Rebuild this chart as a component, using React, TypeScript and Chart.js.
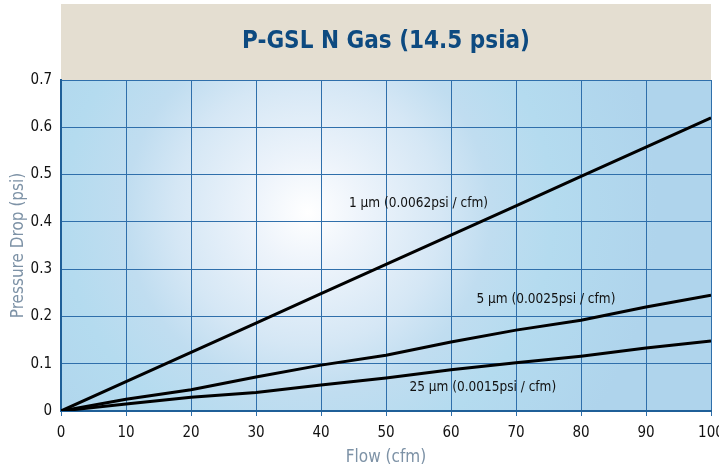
import React, { useEffect, useRef } from "react";
import { Chart, registerables } from "chart.js";

Chart.register(...registerables);

const flow = [0, 10, 20, 30, 40, 50, 60, 70, 80, 90, 100];
const drop1um = [0, 0.062, 0.124, 0.186, 0.248, 0.31, 0.372, 0.434, 0.496, 0.558, 0.62];
const drop5um = [0, 0.025, 0.045, 0.072, 0.097, 0.118, 0.146, 0.171, 0.192, 0.22, 0.245];
const drop25um = [0, 0.015, 0.029, 0.039, 0.055, 0.07, 0.087, 0.102, 0.116, 0.133, 0.148];
const seriesNames = ["1 µm (0.0062psi / cfm)", "5 µm (0.0025psi / cfm)", "25 µm (0.0015psi / cfm)"];
const labelAnchors = [
  { x: 55, y: 0.438 },
  { x: 74.6, y: 0.235 },
  { x: 64.9, y: 0.049 },
];
const titleText = "P-GSL N Gas (14.5 psia)";

const NARROW = "'Liberation Sans Narrow', 'DejaVu Sans Condensed', 'Arial Narrow', sans-serif";

const bgPlugin = {
  id: "bgPlugin",
  beforeDraw(chart: any) {
    const { ctx, chartArea } = chart;
    const { left, right, top, bottom } = chartArea;
    ctx.save();
    ctx.fillStyle = "#e4ded1";
    ctx.fillRect(left, 4, right - left, top - 4);
    const cx = left + (right - left) * 0.38;
    const cy = top + (bottom - top) * 0.4;
    const g = ctx.createRadialGradient(cx, cy, 0, cx, cy, 350);
    g.addColorStop(0, "#ffffff");
    g.addColorStop(0.15, "#eef4fb");
    g.addColorStop(0.38, "#d5e7f5");
    g.addColorStop(0.52, "#c0ddf0");
    g.addColorStop(0.7, "#b4dbef");
    g.addColorStop(1, "#afd4ec");
    ctx.fillStyle = g;
    ctx.fillRect(left, top, right - left, bottom - top);
    ctx.restore();
  },
  afterDraw(chart: any) {
    const { ctx, chartArea } = chart;
    ctx.save();
    ctx.fillStyle = "#0d4a80";
    ctx.font = "bold 24px " + NARROW;
    ctx.textAlign = "center";
    ctx.textBaseline = "middle";
    ctx.fillText(titleText, (chartArea.left + chartArea.right) / 2, 42);
    const xs = chart.scales.x;
    const ys = chart.scales.y;
    ctx.fillStyle = "#111111";
    ctx.font = "13.5px " + NARROW;
    seriesNames.forEach((n, i) => {
      ctx.fillText(n, xs.getPixelForValue(labelAnchors[i].x), ys.getPixelForValue(labelAnchors[i].y));
    });
    ctx.restore();
  },
};

export default function App() {
  const ref = useRef<HTMLCanvasElement | null>(null);
  useEffect(() => {
    if (!ref.current) return;
    const mk = (data: number[]) => ({
      data: flow.map((x, i) => ({ x, y: data[i] })),
      borderColor: "#000000",
      borderWidth: 3,
      pointRadius: 0,
      tension: 0,
      fill: false,
    });
    const chart = new Chart(ref.current, {
      type: "line",
      data: {
        datasets: [mk(drop1um), mk(drop5um), mk(drop25um)],
      },
      plugins: [bgPlugin],
      options: {
        animation: false,
        responsive: true,
        maintainAspectRatio: false,
        layout: { padding: { top: 80, right: 8, left: 0, bottom: 0 } },
        plugins: { legend: { display: false }, tooltip: { enabled: false }, title: { display: false } },
        scales: {
          x: {
            type: "linear",
            min: 0,
            max: 100,
            afterFit(s: any) {
              s.height = 57;
              s.paddingLeft = 0;
              s.paddingRight = 0;
            },
            ticks: {
              stepSize: 10,
              color: "#111111",
              padding: 8,
              maxRotation: 0,
              font: { family: NARROW, size: 15 },
            },
            grid: { color: "#2f6fab", lineWidth: 1, tickLength: 5, tickColor: "#2f6fab" },
            border: { color: "#1f5f98", width: 2 },
            title: {
              display: true,
              text: "Flow (cfm)",
              color: "#7d92a6",
              font: { family: NARROW, size: 17 },
              padding: { top: 0, bottom: 0 },
            },
          },
          y: {
            min: 0,
            max: 0.7,
            afterFit(s: any) {
              s.width = 61;
              s.paddingTop = 0;
              s.paddingBottom = 0;
            },
            ticks: {
              stepSize: 0.1,
              color: "#111111",
              padding: 9,
              font: { family: NARROW, size: 15 },
              callback: (v: any) => (v === 0 ? "0" : Number(v).toFixed(1)),
            },
            grid: { color: "#2f6fab", lineWidth: 1, drawTicks: false },
            border: { color: "#1f5f98", width: 2 },
            title: {
              display: true,
              text: "Pressure Drop (psi)",
              color: "#7d92a6",
              font: { family: NARROW, size: 17 },
              padding: { top: 8, bottom: 0 },
            },
          },
        },
      },
    } as any);
    return () => chart.destroy();
  }, []);
  return (
    <div style={{ position: "absolute", left: 0, top: 0, width: 719, height: 468 }}>
      <canvas ref={ref} />
    </div>
  );
}
